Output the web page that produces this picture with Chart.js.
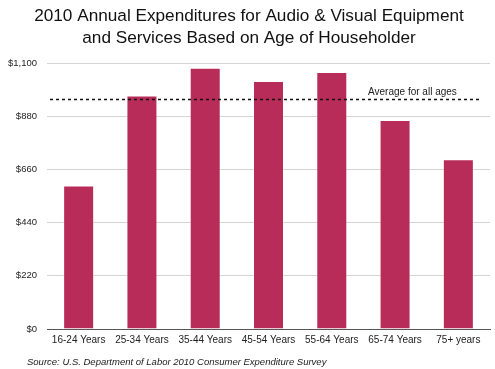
<!DOCTYPE html>
<html>
<head>
<meta charset="utf-8">
<script src="https://cdn.jsdelivr.net/npm/chart.js@4"></script>
<style>
  html, body { margin: 0; padding: 0; background: #fff; }
  #wrap { width: 495px; height: 369px; }
</style>
</head>
<body>
<div id="wrap"><canvas id="chart" width="495" height="369"></canvas></div>
<script>
// === Data ===
const ageGroups = ["16-24 Years", "25-34 Years", "35-44 Years", "45-54 Years", "55-64 Years", "65-74 Years", "75+ years"];
const spending = [594, 966, 1081, 1026, 1063, 864, 702];
const averageAll = 950;
const yTicks = [0, 220, 440, 660, 880, 1100];
const titleLines = ["2010 Annual Expenditures for Audio & Visual Equipment", "and Services Based on Age of Householder"];
const avgLabel = "Average for all ages";
const sourceNote = "Source: U.S. Department of Labor 2010 Consumer Expenditure Survey";

const FONT = "'Liberation Sans', Arial, Helvetica, sans-serif";

// dashed average line + its label, placed by the y scale
const averageLine = {
  id: "averageLine",
  afterDatasetsDraw(chart) {
    const { ctx, chartArea, scales } = chart;
    const y = Math.round(scales.y.getPixelForValue(averageAll)) + 0.5;
    ctx.save();
    ctx.strokeStyle = "#111";
    ctx.lineWidth = 1.6;
    ctx.setLineDash([3, 3]);
    ctx.beginPath();
    ctx.moveTo(chartArea.left + 3, y);
    ctx.lineTo(chartArea.right - 9, y);
    ctx.stroke();
    ctx.setLineDash([]);
    ctx.fillStyle = "#222";
    ctx.font = "10px " + FONT;
    ctx.textAlign = "left";
    ctx.textBaseline = "bottom";
    ctx.fillText(avgLabel, scales.x.getPixelForValue(5) - 27, y - 2);
    ctx.restore();
  }
};

// source line under the chart
const sourceText = {
  id: "sourceText",
  afterDraw(chart) {
    const { ctx } = chart;
    ctx.save();
    ctx.fillStyle = "#222";
    ctx.font = "italic 9.5px " + FONT;
    ctx.textAlign = "left";
    ctx.textBaseline = "middle";
    ctx.fillText(sourceNote, 27, 362);
    ctx.restore();
  }
};

new Chart(document.getElementById("chart"), {
  type: "bar",
  data: {
    labels: ageGroups,
    datasets: [{
      data: spending,
      backgroundColor: "#B82C5A",
      borderColor: "rgba(255,255,255,0.35)",
      borderWidth: 1,
      barPercentage: 0.7,
      categoryPercentage: 0.7
    }]
  },
  options: {
    responsive: false,
    animation: false,
    devicePixelRatio: 1,
    layout: { padding: { left: 8, right: 5, top: 3, bottom: 18 } },
    plugins: {
      legend: { display: false },
      tooltip: { enabled: false },
      title: {
        display: true,
        text: titleLines,
        color: "#111",
        font: { family: FONT, size: 17.2, weight: "normal", lineHeight: 1.28 },
        padding: { top: 2, bottom: 14 }
      }
    },
    scales: {
      x: {
        grid: { display: false, drawTicks: false },
        border: { display: true, color: "#555", width: 1 },
        ticks: { color: "#222", font: { family: FONT, size: 10 }, padding: 5, maxRotation: 0, autoSkip: false }
      },
      y: {
        min: 0,
        max: 1100,
        afterBuildTicks(axis) { axis.ticks = yTicks.map(v => ({ value: v })); },
        afterFit(axis) { axis.width = 39; },
        grid: { color: "#d4d4d4", drawTicks: false },
        border: { display: false },
        ticks: {
          color: "#222",
          font: { family: FONT, size: 9.5 },
          padding: 10,
          callback: v => "$" + v.toLocaleString("en-US")
        }
      }
    }
  },
  plugins: [averageLine, sourceText]
});
</script>
</body>
</html>
